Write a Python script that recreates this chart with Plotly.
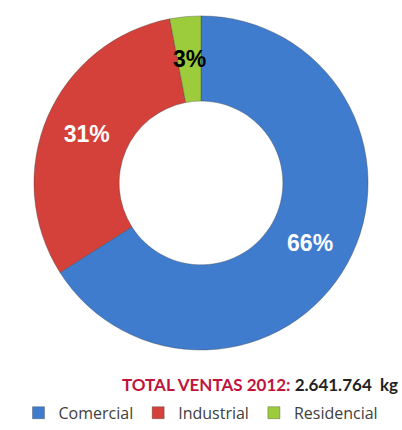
import math
import plotly.graph_objects as go

labels = ["Comercial", "Industrial", "Residencial"]
values = [66, 31, 3]
colors = ["#3F7CCD", "#D3413A", "#9CCB3C"]
text_colors = ["white", "white", "black"]

title_label = "TOTAL VENTAS 2012:"
title_value = "2.641.764  kg"

W, H = 402, 430
DOM_X = [0.084, 0.916]
DOM_Y = [0.186, 0.963]
HOLE = 0.49

fig = go.Figure()
fig.add_trace(
    go.Pie(
        labels=labels,
        values=values,
        hole=HOLE,
        sort=False,
        direction="clockwise",
        rotation=0,
        marker=dict(colors=colors, line=dict(color="rgba(60,60,60,0.35)", width=1)),
        texttemplate=["%{percent:.0%}", "%{percent:.0%}", ""],
        textposition="inside",
        insidetextorientation="horizontal",
        textfont=dict(family="Liberation Sans", size=23, color=text_colors, weight="bold"),
        domain=dict(x=DOM_X, y=DOM_Y),
    )
)

# the small slice label is too big to fit inside; place it at the slice's mid angle
total = sum(values)
start = sum(values[:2]) / total
mid_angle = 2 * math.pi * (start + values[2] / total / 2)
radius_px = min((DOM_X[1] - DOM_X[0]) * W, (DOM_Y[1] - DOM_Y[0]) * H) / 2
ring_mid = radius_px * (1 + HOLE) / 2
cx = (DOM_X[0] + DOM_X[1]) / 2
cy = (DOM_Y[0] + DOM_Y[1]) / 2
fig.add_annotation(
    x=cx + ring_mid * math.sin(mid_angle) / W,
    y=cy + ring_mid * math.cos(mid_angle) / H,
    xref="paper",
    yref="paper",
    xanchor="center",
    yanchor="middle",
    showarrow=False,
    text=f"{round(values[2] / total * 100)}%",
    font=dict(family="Liberation Sans", size=23, color=text_colors[2], weight="bold"),
)

fig.add_annotation(
    x=0.995,
    y=0.105,
    xref="paper",
    yref="paper",
    xanchor="right",
    yanchor="middle",
    showarrow=False,
    text=f"<span style='color:#C0143C'>{title_label}</span> <span style='color:#222222'>{title_value}</span>",
    font=dict(family="Lato", size=17, weight="bold"),
)

fig.update_layout(
    width=W,
    height=H,
    margin=dict(l=0, r=0, t=0, b=0),
    paper_bgcolor="white",
    plot_bgcolor="white",
    legend=dict(
        orientation="h",
        x=0.5,
        xanchor="center",
        y=0.04,
        yanchor="middle",
        font=dict(family="Open Sans", size=16, color="#404040"),
        itemwidth=30,
        traceorder="normal",
    ),
)

# the page body has a default 8px margin; drop it so the figure fills the window
fig.write_html(
    "out.html",
    config={"displayModeBar": False},
    post_script="document.body.style.margin='0';",
)
